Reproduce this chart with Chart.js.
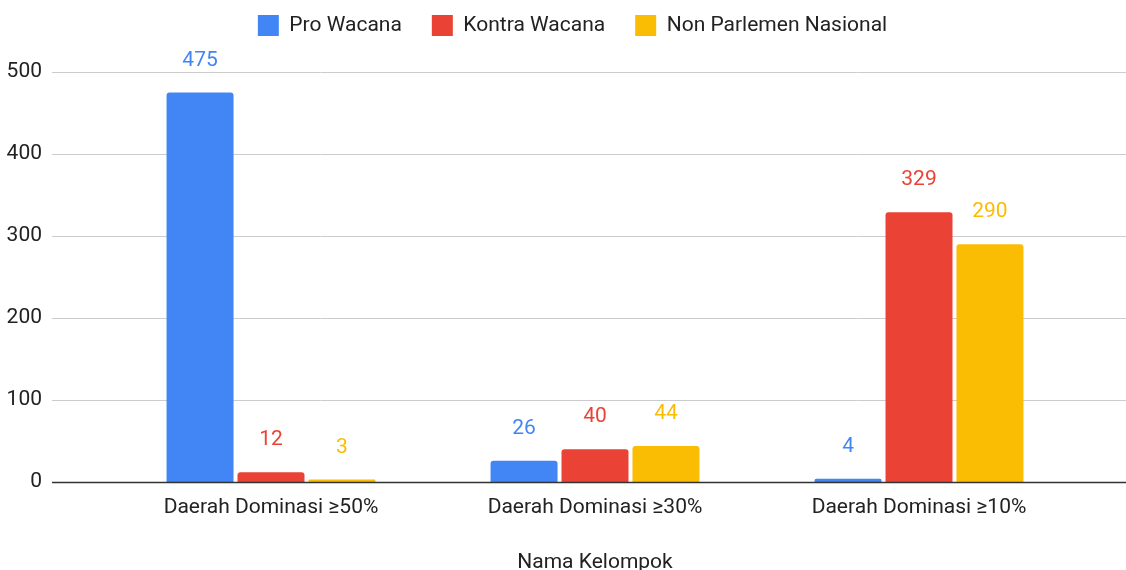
<!DOCTYPE html>
<html>
<head>
<meta charset="utf-8">
<script src="https://cdn.jsdelivr.net/npm/chart.js@4.4.1/dist/chart.umd.min.js"></script>
<style>
  html, body { margin: 0; padding: 0; background: #fff; }
  #wrap { width: 1126px; height: 570px; }
</style>
</head>
<body>
<div id="wrap"><canvas id="chart" width="1126" height="570"></canvas></div>
<script>
var categories = ['Daerah Dominasi \u226550%', 'Daerah Dominasi \u226530%', 'Daerah Dominasi \u226510%'];
var seriesNames = ['Pro Wacana', 'Kontra Wacana', 'Non Parlemen Nasional'];
var proWacana = [475, 26, 4];
var kontraWacana = [12, 40, 329];
var nonParlemen = [3, 44, 290];
var yTicks = [0, 100, 200, 300, 400, 500];
var axisTitle = 'Nama Kelompok';

var COLORS = ['#4285F4', '#EA4335', '#FBBC04'];
var TEXT = '#222222';
var FONT = 'Roboto, "Noto Sans", Arial, sans-serif';
var FS = 21;

Chart.defaults.font.family = FONT;
Chart.defaults.font.size = FS;
Chart.defaults.color = TEXT;

// a little room under the legend, then nudge the legend up/right
var legendGap = {
	id: 'legendGap',
	beforeInit: function (chart) {
		var fit = chart.legend.fit;
		chart.legend.fit = function () {
			fit.bind(chart.legend)();
			this.height += 11;
		};
	},
	afterLayout: function (chart) {
		var lg = chart.legend;
		lg.top -= 15; lg.bottom -= 15;
		lg.left += 32; lg.right += 32;
	}
};

// gridlines run wider than the plot, like the original
var wideGrid = {
	id: 'wideGrid',
	beforeDatasetsDraw: function (chart) {
		var ctx = chart.ctx, y = chart.scales.y, area = chart.chartArea;
		ctx.save();
		y.ticks.forEach(function (t) {
			var py = Math.round(y.getPixelForValue(t.value)) + 0.5;
			ctx.beginPath();
			ctx.lineWidth = 1;
			ctx.strokeStyle = t.value === 0 ? '#333333' : '#cccccc';
			ctx.moveTo(area.left - 57, py);
			ctx.lineTo(chart.width, py);
			ctx.stroke();
		});
		ctx.restore();
	},
	afterDatasetsDraw: function (chart) {
		var ctx = chart.ctx, y = chart.scales.y, area = chart.chartArea;
		var py = Math.round(y.getPixelForValue(0)) + 0.5;
		ctx.save();
		ctx.beginPath();
		ctx.lineWidth = 1.5;
		ctx.strokeStyle = '#333333';
		ctx.moveTo(area.left - 57, py);
		ctx.lineTo(chart.width, py);
		ctx.stroke();
		ctx.restore();
	}
};

// value labels above the bars
var valueLabels = {
	id: 'valueLabels',
	afterDatasetsDraw: function (chart) {
		var ctx = chart.ctx;
		ctx.save();
		ctx.font = FS + 'px ' + FONT;
		ctx.textAlign = 'center';
		ctx.textBaseline = 'middle';
		chart.data.datasets.forEach(function (ds, i) {
			chart.getDatasetMeta(i).data.forEach(function (bar, j) {
				ctx.fillStyle = ds.backgroundColor;
				ctx.fillText(String(ds.data[j]), bar.x, bar.y - 32);
			});
		});
		ctx.restore();
	}
};

new Chart(document.getElementById('chart').getContext('2d'), {
	type: 'bar',
	data: {
		labels: categories,
		datasets: [proWacana, kontraWacana, nonParlemen].map(function (vals, i) {
			return {
				label: seriesNames[i], data: vals,
				backgroundColor: COLORS[i], borderWidth: 0,
				borderRadius: 3, borderSkipped: 'bottom',
				categoryPercentage: 0.657, barPercentage: 0.944
			};
		})
	},
	options: {
		responsive: false, animation: false,
		layout: { padding: { top: 0, right: 45, bottom: 0, left: 0 } },
		plugins: {
			legend: { position: 'top', align: 'center',
				labels: { boxWidth: 21, boxHeight: 21, padding: 30, color: TEXT, font: { size: FS } } },
			tooltip: { enabled: false }
		},
		scales: {
			x: {
				offset: true,
				grid: { display: false, drawTicks: false },
				border: { display: false },
				ticks: { padding: 13, color: TEXT, font: { size: FS } },
				title: { display: true, text: axisTitle, color: TEXT,
					font: { size: FS, lineHeight: 1 }, padding: { top: 0, bottom: -3 } },
				afterFit: function (s) { s.height = 88; }
			},
			y: {
				min: yTicks[0], max: yTicks[yTicks.length - 1],
				grid: { display: false, drawTicks: false },
				border: { display: false },
				ticks: { stepSize: yTicks[1] - yTicks[0], padding: 67, color: TEXT, font: { size: FS } },
				afterFit: function (s) { s.width = 109; s.paddingTop = 12; s.paddingBottom = 12; }
			}
		}
	},
	plugins: [legendGap, wideGrid, valueLabels]
});
</script>
</body>
</html>
